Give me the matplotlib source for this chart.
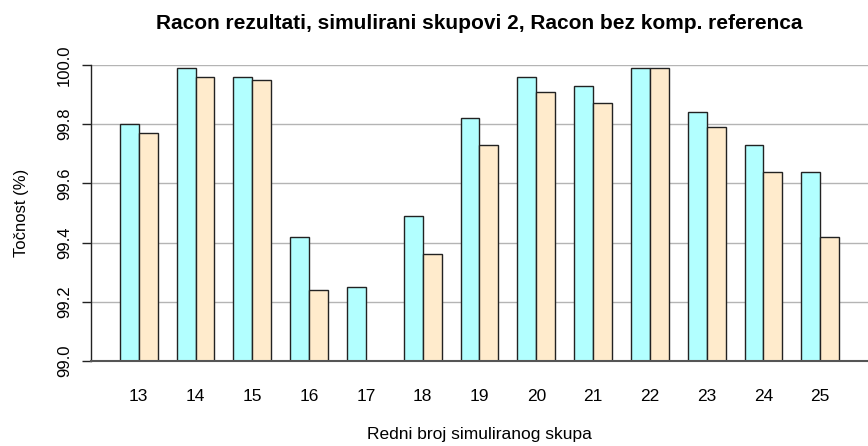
import matplotlib.pyplot as plt
import numpy as np

plt.rcParams['font.family'] = ['Liberation Sans', 'DejaVu Sans']

skupovi = ['13', '14', '15', '16', '17', '18', '19', '20', '21', '22', '23', '24', '25']
s_komp = [99.80, 99.99, 99.96, 99.42, 99.25, 99.49, 99.82, 99.96, 99.93, 99.99, 99.84, 99.73, 99.64]
bez_komp = [99.77, 99.96, 99.95, 99.24, np.nan, 99.36, 99.73, 99.91, 99.87, 99.99, 99.79, 99.64, 99.42]
y_ticks = [99.0, 99.2, 99.4, 99.6, 99.8, 100.0]

fig = plt.figure(figsize=(8.68, 4.46), dpi=100)
ax = fig.add_axes([91/868, 85/446, 777/868, 296/446])

# R barplot stil: sirina stupca 1, razmak izmedu grupa 1
n = len(skupovi)
x_c = np.arange(n) * 3 + 1
for i in range(n):
    ax.bar(x_c[i], s_komp[i] - 99, bottom=99, width=1, align='edge',
           color='#B2FFFF', edgecolor='#222222', linewidth=1, zorder=3)
    if not np.isnan(bez_komp[i]):
        ax.bar(x_c[i] + 1, bez_komp[i] - 99, bottom=99, width=1, align='edge',
               color='#FFEBCC', edgecolor='#222222', linewidth=1, zorder=3)

for y in y_ticks[1:]:
    ax.axhline(y, color='#B4B4B4', linewidth=1, zorder=1)
ax.axhline(99.0, color='#555555', linewidth=1.5, zorder=4, clip_on=False)

ax.set_xlim(-0.52, 40.52)
ax.set_ylim(99.0, 100.0)

for s in ['top', 'right', 'bottom']:
    ax.spines[s].set_visible(False)
ax.spines['left'].set_color('#222222')
ax.spines['left'].set_linewidth(1)

ax.set_yticks(y_ticks)
ax.set_yticklabels(['%.1f' % v for v in y_ticks], rotation=90, va='center', fontsize=12)
ax.tick_params(axis='y', length=6.5, width=1, color='#222222', pad=7)
ax.set_xticks(x_c + 1)
ax.set_xticklabels(skupovi, fontsize=12.5)
ax.tick_params(axis='x', length=0, pad=20.5)

ax.set_xlabel('Redni broj simuliranog skupa', fontsize=12.5, labelpad=16)
ax.set_ylabel('Točnost (%)', fontsize=12, labelpad=20)
ax.set_title('Racon rezultati, simulirani skupovi 2, Racon bez komp. referenca',
             fontsize=15, fontweight='bold', pad=26)

fig.savefig('out.png', dpi=100)
